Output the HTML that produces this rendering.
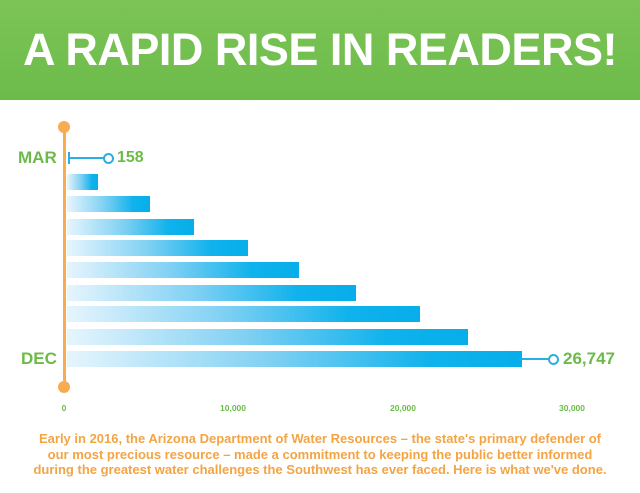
<!DOCTYPE html>
<html><head><style>
body{margin:0;width:640px;height:493px;background:#fff;overflow:hidden;font-family:"Liberation Sans",sans-serif;position:relative}
.hdr{position:absolute;left:0;top:0;width:640px;height:100px;background:linear-gradient(#7cc456,#6cbb4a)}
.hdr div{position:absolute;left:0;right:0;top:24px;text-align:center;color:#fff;font-weight:bold;font-size:45px;letter-spacing:-0.5px}
.bar{position:absolute;left:67px;height:16px;background:linear-gradient(90deg,#e6f5fd,#7fd0f3 45%,#0fb2ec 80%,#06aeea)}
.lbl{position:absolute;color:#6cbb4a;font-weight:bold}
.tick{position:absolute;top:403px;font-size:8.5px;color:#6cbb4a;font-weight:bold;transform:translateX(-50%)}
.cap{position:absolute;left:0;right:0;top:431px;text-align:center;color:#f3a443;font-weight:bold;font-size:13px;line-height:15.5px}
</style></head><body>
<div class="hdr"><div>A RAPID RISE IN READERS!</div></div>
<div style="position:absolute;left:63px;top:127px;width:3px;height:260px;background:#f7ac52"></div>
<div style="position:absolute;left:58px;top:121px;width:12px;height:12px;border-radius:50%;background:#f7ac52"></div>
<div style="position:absolute;left:58px;top:381px;width:12px;height:12px;border-radius:50%;background:#f7ac52"></div>
<div style="position:absolute;left:68px;top:152px;width:2px;height:12px;background:#2aaee6"></div>
<div style="position:absolute;left:69px;top:157px;width:35px;height:2px;background:#2aaee6"></div>
<div style="position:absolute;left:103px;top:153px;width:7px;height:7px;border:2px solid #2aaee6;border-radius:50%;background:#fff"></div>
<div class="lbl" style="left:117px;top:149px;font-size:16px">158</div>
<div class="lbl" style="left:18px;top:148px;font-size:17px">MAR</div>
<div class="bar" style="top:174px;width:31px"></div>
<div class="bar" style="top:196px;width:83px"></div>
<div class="bar" style="top:219px;width:127px"></div>
<div class="bar" style="top:240px;width:181px"></div>
<div class="bar" style="top:262px;width:232px"></div>
<div class="bar" style="top:285px;width:289px"></div>
<div class="bar" style="top:306px;width:353px"></div>
<div class="bar" style="top:329px;width:401px"></div>
<div class="bar" style="top:351px;width:455px"></div>
<div style="position:absolute;left:522px;top:358px;width:27px;height:2px;background:#2aaee6"></div>
<div style="position:absolute;left:548px;top:354px;width:7px;height:7px;border:2px solid #2aaee6;border-radius:50%;background:#fff"></div>
<div class="lbl" style="left:563px;top:349px;font-size:17px">26,747</div>
<div class="lbl" style="left:21px;top:349px;font-size:17px">DEC</div>
<div class="tick" style="left:64px">0</div>
<div class="tick" style="left:233px">10,000</div>
<div class="tick" style="left:403px">20,000</div>
<div class="tick" style="left:572px">30,000</div>
<div class="cap">Early in 2016, the Arizona Department of Water Resources – the state's primary defender of<br>our most precious resource – made a commitment to keeping the public better informed<br>during the greatest water challenges the Southwest has ever faced. Here is what we've done.</div>
</body></html>
